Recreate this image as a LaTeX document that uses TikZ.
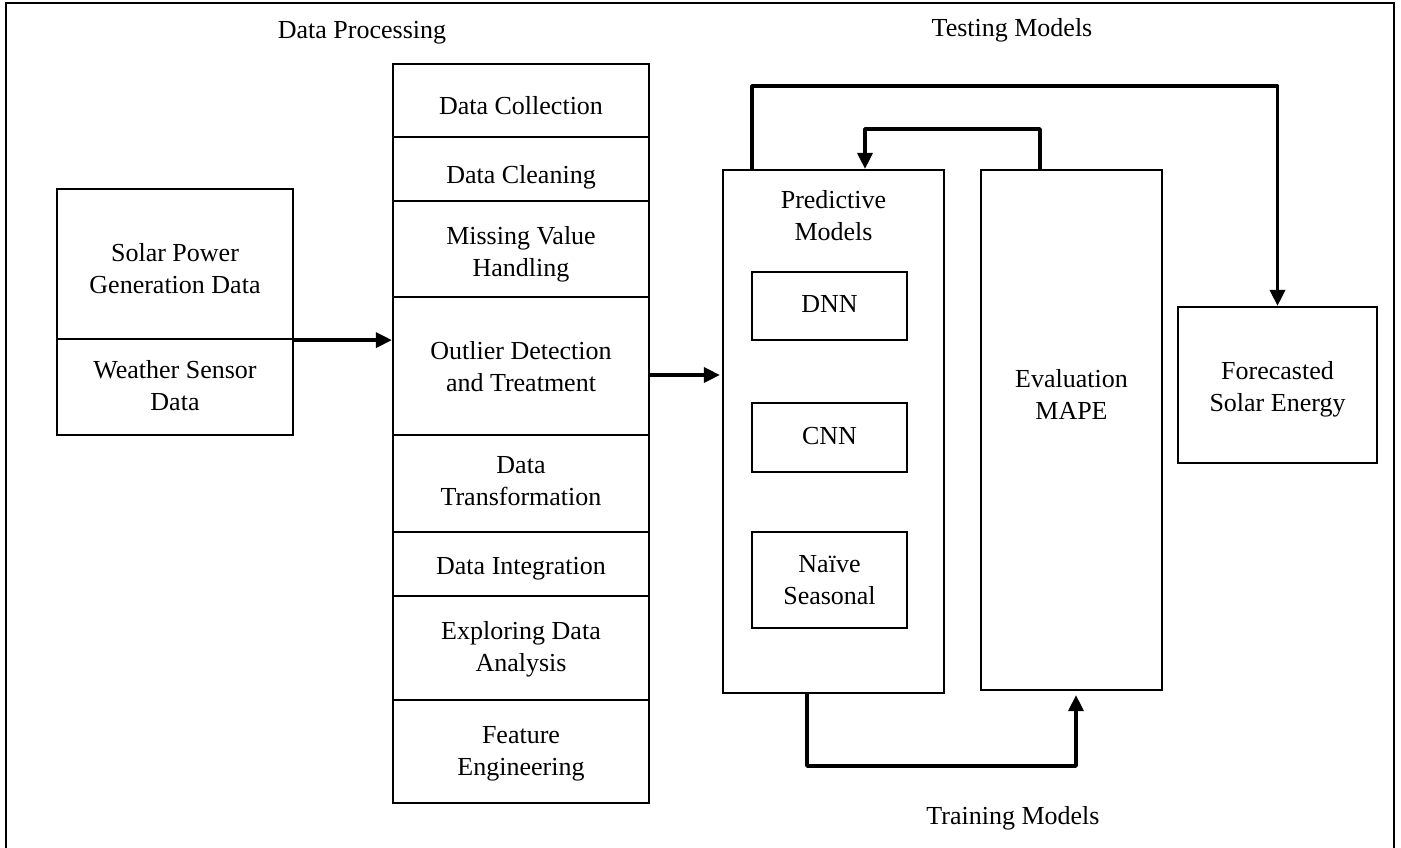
\documentclass[tikz,border=0pt]{standalone}
\usepackage{fontspec}
\setmainfont{Liberation Serif}
\usetikzlibrary{arrows.meta}
\newcommand{\lowtext}[2]{\raisebox{-#1pt}[\height][\depth]{\begin{tabular}{@{}c@{}}#2\end{tabular}}}
\begin{document}
\begin{tikzpicture}[x=1pt,y=-1pt,
  box/.style={draw=black, line width=2.2pt, inner sep=0pt, align=center, font=\fontsize{26}{32}\selectfont},
  lbl/.style={inner sep=0pt, align=center, font=\fontsize{26}{32}\selectfont},
  arr/.style={line width=3.5pt, line join=round, -{Triangle[length=16pt,width=15pt]}}]
\useasboundingbox (0,0) rectangle (1401,847);
% outer frame
\draw[line width=1.3pt] (6,850) -- (6,3) -- (1394,3) -- (1394,850);
% titles
\node[lbl] (tdp) at (362,33) {Data Processing};
\node[lbl] (ttm) at (1012,30) {Testing Models};
\node[lbl] (ttr) at (1013,818) {Training Models};
% left stack
\node[box, minimum width=236pt, minimum height=150pt] (solar) at (175,264) {\lowtext{7}{Solar Power\\Generation Data}};
\node[box, minimum width=236pt, minimum height=96pt] (weather) at (175,387) {\lowtext{1}{Weather Sensor\\Data}};
% middle stack
\node[box, minimum width=256pt, minimum height=73pt] (dcol) at (521,100.5) {\lowtext{8}{Data Collection}};
\node[box, minimum width=256pt, minimum height=64pt] (dcln) at (521,169) {\lowtext{8}{Data Cleaning}};
\node[box, minimum width=256pt, minimum height=96pt] (miss) at (521,249) {\lowtext{5}{Missing Value\\Handling}};
\node[box, minimum width=256pt, minimum height=138pt] (outl) at (521,366) {\lowtext{3}{Outlier Detection\\and Treatment}};
\node[box, minimum width=256pt, minimum height=97pt] (trans) at (521,483.5) {\lowtext{0}{Data\\Transformation}};
\node[box, minimum width=256pt, minimum height=64pt] (integ) at (521,564) {\lowtext{4}{Data Integration}};
\node[box, minimum width=256pt, minimum height=104pt] (explo) at (521,648) {\lowtext{1}{Exploring Data\\Analysis}};
\node[box, minimum width=256pt, minimum height=103pt] (feat) at (521,751.5) {\lowtext{2}{Feature\\Engineering}};
% predictive models
\node[box, minimum width=221pt, minimum height=523pt] (pred) at (833.5,431.5) {};
\node[lbl] (predlbl) at (833.5,216) {Predictive\\Models};
\node[box, minimum width=155pt, minimum height=68pt] (dnn) at (829.5,306) {\lowtext{0}{DNN}};
\node[box, minimum width=155pt, minimum height=69pt] (cnn) at (829.5,437.5) {\lowtext{1}{CNN}};
\node[box, minimum width=155pt, minimum height=96pt] (naive) at (829.5,580) {\lowtext{2}{Naïve\\Seasonal}};
% evaluation
\node[box, minimum width=181pt, minimum height=520pt] (eval) at (1071.5,430) {};
\node[lbl] (evallbl) at (1071.5,394) {Evaluation\\MAPE};
% forecast
\node[box, minimum width=199pt, minimum height=156pt] (fore) at (1277.5,385) {\lowtext{4}{Forecasted\\Solar Energy}};
% connectors
\draw[arr] (solar.south east) -- (solar.south east -| outl.west);
\draw[arr, shorten >=2pt] ([yshift=-9pt]outl.east) -- ([yshift=-9pt]outl.east -| pred.west);
\coordinate (t1) at (752,86);
\draw[arr] (pred.north -| t1) -- (t1) -| (fore.north);
\coordinate (t2) at (1040,129);
\coordinate (t3) at (865,129);
\draw[arr] (eval.north -| t2) -- (t2) -- (t3) -- (pred.north -| t3);
\coordinate (b1) at (807,766);
\coordinate (b2) at (1076,766);
\draw[arr, shorten >=4pt] (pred.south -| b1) -- (b1) -- (b2) -- (eval.south -| b2);
\end{tikzpicture}
\end{document}
